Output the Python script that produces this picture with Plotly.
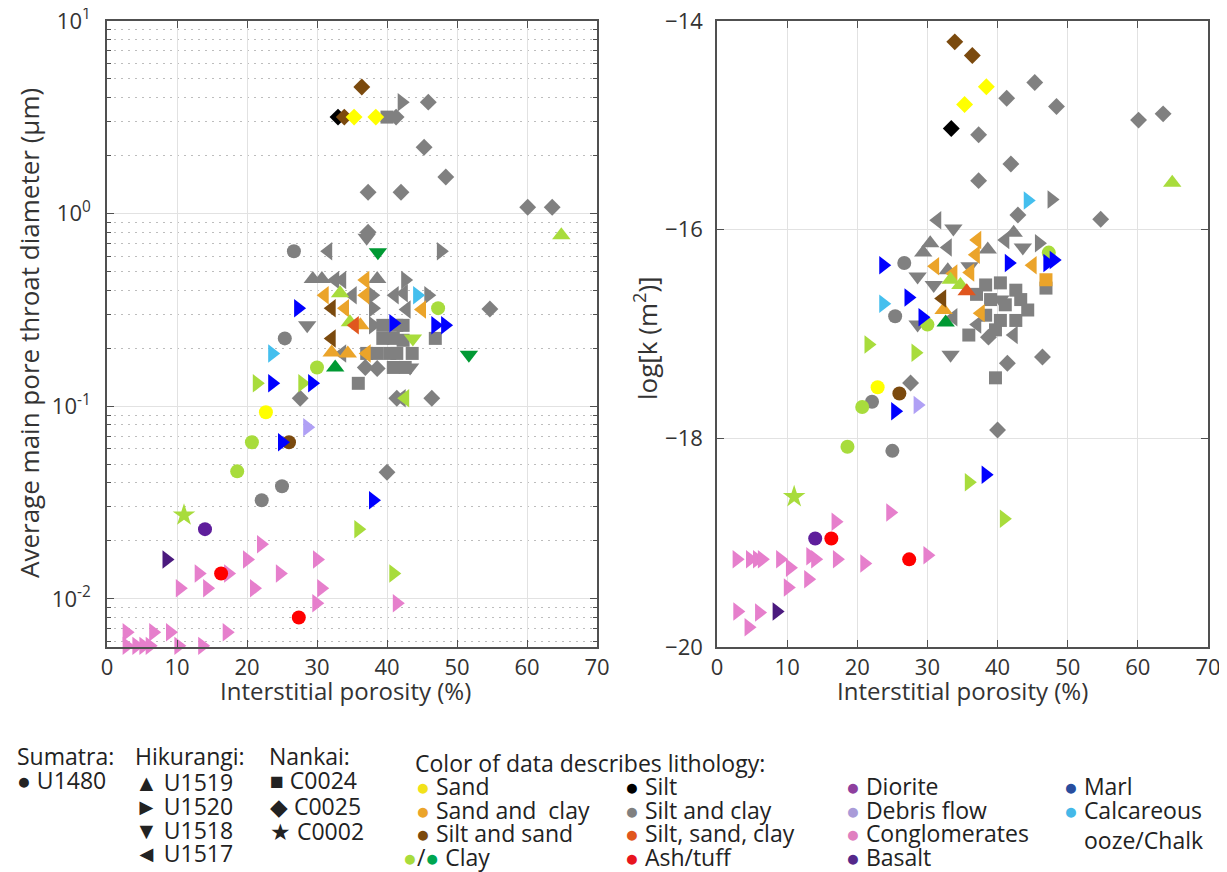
import plotly.graph_objects as go

# ---------------- colours (lithology) ----------------
C_SAND = "#FFFF00"
C_SAND_CLAY = "#EBA42A"
C_SILT_SAND = "#7B4A0E"
C_CLAY_LG = "#A8DC3C"
C_CLAY_G = "#009933"
C_SILT = "#000000"
C_SILT_CLAY = "#808080"
C_SSC = "#E0561E"
C_ASH = "#FF0000"
C_DIORITE = "#5F1E9C"
C_DEBRIS = "#B0A0F5"
C_CONGL = "#E67FCC"
C_BASALT = "#4B1A7E"
C_MARL = "#0000FF"
C_CALC = "#44BFEE"

# ---------------- LEFT panel: porosity (%) vs pore throat diameter (um) ----------------
L_grey_dia_phi = [41.3, 45.9, 45.3, 48.4, 37.3, 42.0, 60.1, 63.6, 54.7, 36.9, 38.6, 27.6, 41.4, 46.4, 40.0, 37.3]
L_grey_dia_d = [3.17, 3.79, 2.21, 1.55, 1.29, 1.29, 1.08, 1.08, 0.32, 0.159, 0.157, 0.110, 0.110, 0.110, 0.0454, 0.80]
L_black_dia_phi = [33.0]
L_black_dia_d = [3.17]
L_brown_dia_phi = [33.9, 36.4]
L_brown_dia_d = [3.17, 4.54]
L_yellow_dia_phi = [35.3, 38.4]
L_yellow_dia_d = [3.17, 3.17]
L_grey_sq_phi = [40.0, 39.4, 41.4, 42.3, 39.4, 40.9, 42.3, 46.9, 37.1, 38.6, 40.4, 41.4, 43.6, 40.9, 42.6, 35.9]
L_grey_sq_d = [3.17, 0.263, 0.263, 0.263, 0.225, 0.225, 0.22, 0.225, 0.188, 0.188, 0.188, 0.188, 0.188, 0.159, 0.159, 0.1315]
L_grey_dn_phi = [37.1, 28.6, 43.3]
L_grey_dn_d = [0.75, 0.263, 0.159]
L_grey_up_phi = [29.4, 30.7, 38.6]
L_grey_up_d = [0.457, 0.457, 0.457]
L_grey_lt_phi = [31.6, 32.6, 33.6, 35.1, 41.1, 42.4, 42.8, 33.6, 42.1]
L_grey_lt_d = [0.638, 0.452, 0.452, 0.377, 0.377, 0.386, 0.318, 0.188, 0.11]
L_grey_rt_phi = [42.1, 47.7, 42.6, 45.9, 38.0, 38.0, 37.9]
L_grey_rt_d = [3.79, 0.638, 0.452, 0.377, 0.323, 0.263, 0.377]
L_grey_ci_phi = [26.7, 25.4, 25.0, 22.1]
L_grey_ci_d = [0.638, 0.225, 0.0384, 0.0325]
L_brown_lt_phi = [32.1, 32.1]
L_brown_lt_d = [0.323, 0.225]
L_brown_ci_phi = [26.0]
L_brown_ci_d = [0.065]
L_yellow_ci_phi = [22.7]
L_yellow_ci_d = [0.093]
L_orange_lt_phi = [36.9, 31.1, 36.9, 34.0, 45.0, 37.1]
L_orange_lt_d = [0.452, 0.377, 0.377, 0.323, 0.318, 0.188]
L_orange_up_phi = [32.1, 34.4, 36.2]
L_orange_up_d = [0.19, 0.188, 0.263]
L_lg_up_phi = [33.3, 34.7, 64.9]
L_lg_up_d = [0.386, 0.273, 0.773]
L_lg_dn_phi = [43.7]
L_lg_dn_d = [0.225]
L_lg_lt_phi = [42.6]
L_lg_lt_d = [0.11]
L_lg_rt_phi = [21.4, 27.9, 35.9, 40.9]
L_lg_rt_d = [0.1315, 0.1315, 0.023, 0.01355]
L_lg_ci_phi = [47.3, 30.0, 20.7, 18.6]
L_lg_ci_d = [0.323, 0.159, 0.065, 0.0459]
L_lg_star_phi = [11.0]
L_lg_star_d = [0.0272]
L_green_dn_phi = [38.7, 51.7]
L_green_dn_d = [0.63, 0.185]
L_green_up_phi = [32.6]
L_green_up_d = [0.159]
L_ssc_lt_phi = [35.4]
L_ssc_lt_d = [0.263]
L_blue_rt_phi = [27.3, 46.9, 48.3, 23.6, 29.3, 25.0, 38.0, 40.9]
L_blue_rt_d = [0.323, 0.263, 0.263, 0.1315, 0.1315, 0.065, 0.0325, 0.27]
L_calc_rt_phi = [44.3, 23.6]
L_calc_rt_d = [0.377, 0.188]
L_debris_rt_phi = [28.6]
L_debris_rt_d = [0.0778]
L_pink_rt_phi = [22.0, 20.0, 30.0, 13.1, 17.3, 24.7, 10.4, 14.3, 21.0, 30.6, 29.9, 41.4,
                 2.8, 6.6, 9.0, 17.1, 2.8, 4.2, 5.2, 6.1, 10.2, 13.6]
L_pink_rt_d = [0.0192, 0.016, 0.016, 0.01355, 0.01355, 0.01355, 0.01135, 0.01135, 0.01135, 0.01135, 0.0095, 0.0095,
               0.0067, 0.0067, 0.0067, 0.0067, 0.0057, 0.0057, 0.0057, 0.0057, 0.0057, 0.0057]
L_red_ci_phi = [16.3, 27.4]
L_red_ci_d = [0.01355, 0.0080]
L_diorite_ci_phi = [14.0]
L_diorite_ci_d = [0.023]
L_basalt_rt_phi = [8.5]
L_basalt_rt_d = [0.016]

# ---------------- RIGHT panel: porosity (%) vs log permeability ----------------
R_grey_dia_phi = [45.3, 41.3, 48.4, 60.1, 63.6, 37.3, 41.9, 37.3, 42.9, 54.7, 38.7, 41.4, 46.4, 27.6, 40.0]
R_grey_dia_k = [-14.59, -14.74, -14.82, -14.95, -14.89, -15.09, -15.37, -15.53, -15.86, -15.90, -17.03, -17.28, -17.22, -17.47, -17.92]
R_black_dia_phi = [33.4]
R_black_dia_k = [-15.03]
R_brown_dia_phi = [33.9, 36.4]
R_brown_dia_k = [-14.20, -14.33]
R_yellow_dia_phi = [38.4, 35.3]
R_yellow_dia_k = [-14.63, -14.80]
R_grey_sq_phi = [38.3, 40.4, 42.6, 39.0, 41.1, 43.3, 38.3, 40.4, 42.6, 44.3, 39.7, 35.9, 39.7, 46.9, 37.0]
R_grey_sq_k = [-16.53, -16.51, -16.58, -16.67, -16.72, -16.67, -16.82, -16.87, -16.87, -16.77, -16.96, -17.01, -17.42, -16.56, -16.62]
R_orange_sq_phi = [46.9]
R_orange_sq_k = [-16.48]
R_grey_dn_phi = [33.7, 43.6, 28.6, 30.9, 28.6, 33.3, 40.4, 36.0]
R_grey_dn_k = [-15.99, -16.17, -16.45, -16.53, -16.91, -17.20, -16.67, -16.35]
R_grey_up_phi = [30.4, 29.4, 32.9, 38.6, 42.3]
R_grey_up_k = [-16.13, -16.22, -16.39, -16.19, -16.03]
R_grey_lt_phi = [31.4, 32.9, 41.1, 37.1, 42.3, 33.7]
R_grey_lt_k = [-15.91, -16.17, -16.10, -16.91, -17.01, -16.84]
R_grey_rt_phi = [47.7, 45.9]
R_grey_rt_k = [-15.71, -16.13]
R_grey_ci_phi = [26.7, 25.4, 22.1, 25.0]
R_grey_ci_k = [-16.32, -16.83, -17.65, -18.12]
R_orange_lt_phi = [31.1, 33.7, 36.1, 36.9, 37.1, 45.0, 37.6]
R_orange_lt_k = [-16.35, -16.42, -16.41, -16.24, -16.10, -16.34, -16.80]
R_orange_up_phi = [32.3]
R_orange_up_k = [-16.77]
R_brown_lt_phi = [32.1]
R_brown_lt_k = [-16.66]
R_brown_ci_phi = [26.0]
R_brown_ci_k = [-17.57]
R_yellow_ci_phi = [22.9]
R_yellow_ci_k = [-17.51]
R_lg_up_phi = [33.3, 34.7, 64.9]
R_lg_up_k = [-16.48, -16.53, -15.55]
R_lg_ci_phi = [47.3, 30.0, 20.7, 18.6]
R_lg_ci_k = [-16.22, -16.91, -17.70, -18.08]
R_lg_rt_phi = [21.6, 28.3, 35.9, 40.9]
R_lg_rt_k = [-17.10, -17.18, -18.42, -18.77]
R_lg_star_phi = [11.0]
R_lg_star_k = [-18.56]
R_green_up_phi = [32.6]
R_green_up_k = [-16.89]
R_ssc_up_phi = [35.6]
R_ssc_up_k = [-16.59]
R_blue_rt_phi = [23.7, 27.3, 29.3, 25.4, 41.6, 48.0, 47.1, 38.3]
R_blue_rt_k = [-16.34, -16.65, -16.84, -17.74, -16.32, -16.29, -16.32, -18.35]
R_calc_rt_phi = [44.3, 23.7]
R_calc_rt_k = [-15.72, -16.71]
R_debris_rt_phi = [28.6]
R_debris_rt_k = [-17.68]
R_red_ci_phi = [16.3, 27.4]
R_red_ci_k = [-18.96, -19.16]
R_diorite_ci_phi = [14.0]
R_diorite_ci_k = [-18.96]
R_basalt_rt_phi = [8.5]
R_basalt_rt_k = [-19.66]
R_pink_rt_phi = [24.7, 16.9, 2.8, 4.7, 5.7, 6.4, 9.0, 14.0, 17.1, 13.3, 30.0, 21.0, 10.4, 13.0, 10.1, 2.9, 6.0, 4.5]
R_pink_rt_k = [-18.71, -18.80, -19.16, -19.16, -19.16, -19.16, -19.16, -19.16, -19.16, -19.13, -19.12, -19.20,
               -19.24, -19.35, -19.43, -19.66, -19.67, -19.81]

# ---------------- axis ticks / labels ----------------
x_ticks = [0, 10, 20, 30, 40, 50, 60, 70]
left_y_ticks = [0.01, 0.1, 1, 10]
left_y_ticktext = ["10<sup>-2</sup>", "10<sup>-1</sup>", "10<sup>0</sup>", "10<sup>1</sup>"]
right_y_ticks = [-20, -18, -16, -14]

SYM = {"ci": "circle", "up": "triangle-up", "rt": "triangle-right", "dn": "triangle-down",
       "lt": "triangle-left", "sq": "square", "dia": "diamond", "star": "star"}
SIZE = {"ci": 14, "up": 16, "rt": 16, "dn": 16, "lt": 16, "sq": 13, "dia": 13, "star": 17}

fig = go.Figure()


def add(xs, ys, kind, color, panel):
    fig.add_trace(go.Scatter(
        x=xs, y=ys, mode="markers", showlegend=False, cliponaxis=False,
        xaxis="x" if panel == 1 else "x2", yaxis="y" if panel == 1 else "y2",
        marker=dict(symbol=SYM[kind], size=SIZE[kind], color=color, line=dict(width=0)),
        hoverinfo="x+y"))


left_groups = [
    (L_grey_dia_phi, L_grey_dia_d, "dia", C_SILT_CLAY),
    (L_grey_sq_phi, L_grey_sq_d, "sq", C_SILT_CLAY),
    (L_grey_dn_phi, L_grey_dn_d, "dn", C_SILT_CLAY),
    (L_grey_up_phi, L_grey_up_d, "up", C_SILT_CLAY),
    (L_grey_lt_phi, L_grey_lt_d, "lt", C_SILT_CLAY),
    (L_grey_rt_phi, L_grey_rt_d, "rt", C_SILT_CLAY),
    (L_grey_ci_phi, L_grey_ci_d, "ci", C_SILT_CLAY),
    (L_black_dia_phi, L_black_dia_d, "dia", C_SILT),
    (L_brown_dia_phi, L_brown_dia_d, "dia", C_SILT_SAND),
    (L_yellow_dia_phi, L_yellow_dia_d, "dia", C_SAND),
    (L_brown_lt_phi, L_brown_lt_d, "lt", C_SILT_SAND),
    (L_brown_ci_phi, L_brown_ci_d, "ci", C_SILT_SAND),
    (L_yellow_ci_phi, L_yellow_ci_d, "ci", C_SAND),
    (L_orange_lt_phi, L_orange_lt_d, "lt", C_SAND_CLAY),
    (L_orange_up_phi, L_orange_up_d, "up", C_SAND_CLAY),
    (L_lg_up_phi, L_lg_up_d, "up", C_CLAY_LG),
    (L_lg_dn_phi, L_lg_dn_d, "dn", C_CLAY_LG),
    (L_lg_lt_phi, L_lg_lt_d, "lt", C_CLAY_LG),
    (L_lg_rt_phi, L_lg_rt_d, "rt", C_CLAY_LG),
    (L_lg_ci_phi, L_lg_ci_d, "ci", C_CLAY_LG),
    (L_lg_star_phi, L_lg_star_d, "star", C_CLAY_LG),
    (L_green_dn_phi, L_green_dn_d, "dn", C_CLAY_G),
    (L_green_up_phi, L_green_up_d, "up", C_CLAY_G),
    (L_ssc_lt_phi, L_ssc_lt_d, "lt", C_SSC),
    (L_blue_rt_phi, L_blue_rt_d, "rt", C_MARL),
    (L_calc_rt_phi, L_calc_rt_d, "rt", C_CALC),
    (L_debris_rt_phi, L_debris_rt_d, "rt", C_DEBRIS),
    (L_pink_rt_phi, L_pink_rt_d, "rt", C_CONGL),
    (L_red_ci_phi, L_red_ci_d, "ci", C_ASH),
    (L_diorite_ci_phi, L_diorite_ci_d, "ci", C_DIORITE),
    (L_basalt_rt_phi, L_basalt_rt_d, "rt", C_BASALT),
]

right_groups = [
    (R_grey_dia_phi, R_grey_dia_k, "dia", C_SILT_CLAY),
    (R_grey_sq_phi, R_grey_sq_k, "sq", C_SILT_CLAY),
    (R_orange_sq_phi, R_orange_sq_k, "sq", C_SAND_CLAY),
    (R_grey_dn_phi, R_grey_dn_k, "dn", C_SILT_CLAY),
    (R_grey_up_phi, R_grey_up_k, "up", C_SILT_CLAY),
    (R_grey_lt_phi, R_grey_lt_k, "lt", C_SILT_CLAY),
    (R_grey_rt_phi, R_grey_rt_k, "rt", C_SILT_CLAY),
    (R_grey_ci_phi, R_grey_ci_k, "ci", C_SILT_CLAY),
    (R_black_dia_phi, R_black_dia_k, "dia", C_SILT),
    (R_brown_dia_phi, R_brown_dia_k, "dia", C_SILT_SAND),
    (R_yellow_dia_phi, R_yellow_dia_k, "dia", C_SAND),
    (R_orange_lt_phi, R_orange_lt_k, "lt", C_SAND_CLAY),
    (R_orange_up_phi, R_orange_up_k, "up", C_SAND_CLAY),
    (R_brown_lt_phi, R_brown_lt_k, "lt", C_SILT_SAND),
    (R_brown_ci_phi, R_brown_ci_k, "ci", C_SILT_SAND),
    (R_yellow_ci_phi, R_yellow_ci_k, "ci", C_SAND),
    (R_lg_up_phi, R_lg_up_k, "up", C_CLAY_LG),
    (R_lg_ci_phi, R_lg_ci_k, "ci", C_CLAY_LG),
    (R_lg_rt_phi, R_lg_rt_k, "rt", C_CLAY_LG),
    (R_lg_star_phi, R_lg_star_k, "star", C_CLAY_LG),
    (R_green_up_phi, R_green_up_k, "up", C_CLAY_G),
    (R_ssc_up_phi, R_ssc_up_k, "up", C_SSC),
    (R_blue_rt_phi, R_blue_rt_k, "rt", C_MARL),
    (R_calc_rt_phi, R_calc_rt_k, "rt", C_CALC),
    (R_debris_rt_phi, R_debris_rt_k, "rt", C_DEBRIS),
    (R_red_ci_phi, R_red_ci_k, "ci", C_ASH),
    (R_diorite_ci_phi, R_diorite_ci_k, "ci", C_DIORITE),
    (R_basalt_rt_phi, R_basalt_rt_k, "rt", C_BASALT),
    (R_pink_rt_phi, R_pink_rt_k, "rt", C_CONGL),
]

for xs, ys, kind, col in left_groups:
    add(xs, ys, kind, col, 1)
for xs, ys, kind, col in right_groups:
    add(xs, ys, kind, col, 2)

# the page body has an 8 px margin: the figure is made 8 px smaller and laid out
# in window pixel coordinates shifted by that offset
OFF = 8
W, H = 1227 - OFF, 872 - OFF


def fx(p):
    return (p - OFF) / W


def fy(p):
    return 1 - (p - OFF) / H


FONT = "Open Sans"
TICKFONT = dict(family=FONT, size=22, color="#333333")
AX_LINE = "#505050"
GRID = "#e2e2e2"

common_x = dict(range=[0, 70], tickvals=x_ticks, showgrid=True, gridcolor=GRID, gridwidth=1,
                ticks="inside", ticklen=7, tickcolor=AX_LINE, showline=True, linecolor=AX_LINE,
                linewidth=1.6, mirror="allticks", zeroline=False, tickfont=TICKFONT, automargin=False,
                ticklabeloverflow="allow")

fig.update_layout(
    width=W, height=H, margin=dict(l=0, r=0, t=0, b=0, autoexpand=False),
    paper_bgcolor="white", plot_bgcolor="white",
    font=dict(family=FONT, color="#333333"),
    xaxis=dict(domain=[fx(107), fx(597)], anchor="y", **common_x),
    yaxis=dict(domain=[fy(647), fy(21)], anchor="x", type="log", range=[-2.25, 1],
               tickvals=left_y_ticks, ticktext=left_y_ticktext, showgrid=True, gridcolor=GRID,
               ticks="inside", ticklen=7, tickcolor=AX_LINE, showline=True, linecolor=AX_LINE,
               linewidth=1.6, mirror="allticks", zeroline=False, tickfont=TICKFONT, automargin=False,
               ticklabelstandoff=10, ticklabeloverflow="allow",
               minor=dict(dtick="D1", ticks="inside", ticklen=4, tickcolor=AX_LINE,
                          showgrid=True, gridcolor="#bdbdbd", griddash="2px,5px", gridwidth=1)),
    xaxis2=dict(domain=[fx(717), fx(1208)], anchor="y2", **common_x),
    yaxis2=dict(domain=[fy(647), fy(21)], anchor="x2", range=[-20, -14],
                tickvals=right_y_ticks, showgrid=True, gridcolor=GRID,
                ticks="inside", ticklen=7, tickcolor=AX_LINE, showline=True, linecolor=AX_LINE,
                linewidth=1.6, mirror="allticks", zeroline=False, tickfont=TICKFONT, automargin=False,
                ticklabelstandoff=8, ticklabeloverflow="allow"),
)

ann = []


def txt(x, y, text, size=23, color="#222222", xanchor="left", angle=0):
    ann.append(dict(x=fx(x), y=fy(y), xref="paper", yref="paper", text=text, showarrow=False,
                    xanchor=xanchor, yanchor="middle", textangle=angle,
                    font=dict(family=FONT, size=size, color=color)))


# axis titles
txt(345, 690, "Interstitial porosity (%)", 24, "#333333", "center")
txt(962, 690, "Interstitial porosity (%)", 24, "#333333", "center")
txt(29, 333, "Average main pore throat diameter (µm)", 26, "#333333", "center", -90)
txt(646, 338, "log[k (m<sup>2</sup>)]", 26, "#333333", "center", -90)

# site legend
txt(15, 756, "Sumatra:")
txt(15, 780, "● U1480")
txt(133, 756, "Hikurangi:")
txt(133, 782, "▲ U1519")
txt(133, 806, "► U1520")
txt(133, 830, "▼ U1518")
txt(133, 853, "◄ U1517")
txt(267, 756, "Nankai:")
txt(268, 780, "■ C0024")
txt(268, 806, "◆ C0025")
txt(268, 831, "★ C0002")

# lithology legend
txt(413, 763, "Color of data describes lithology:")
lith_cols = [
    (414, [("#F2E21A", "Sand"), ("#EBA42A", "Sand and  clay"), ("#7B4A0E", "Silt and sand")]),
    (623, [("#000000", "Silt"), ("#808080", "Silt and clay"), ("#E0561E", "Silt, sand, clay"), ("#E8141E", "Ash/tuff")]),
    (844, [("#8E3F9E", "Diorite"), ("#A99BD8", "Debris flow"), ("#E07FC0", "Conglomerates"), ("#55288A", "Basalt")]),
    (1062, [("#284D9E", "Marl"), ("#45B8E8", "Calcareous")]),
]
rows_y = [786, 810, 833, 857]
for cx, items in lith_cols:
    for (col, label), yy in zip(items, rows_y):
        txt(cx, yy, "<span style='color:%s'>●</span> %s" % (col, label))
txt(1082, 840, "ooze/Chalk")
txt(401, 857, "<span style='color:#A8DC3C'>●</span>/<span style='color:#00A650'>●</span> Clay")

fig.update_layout(annotations=ann)
fig.write_html("out.html")
